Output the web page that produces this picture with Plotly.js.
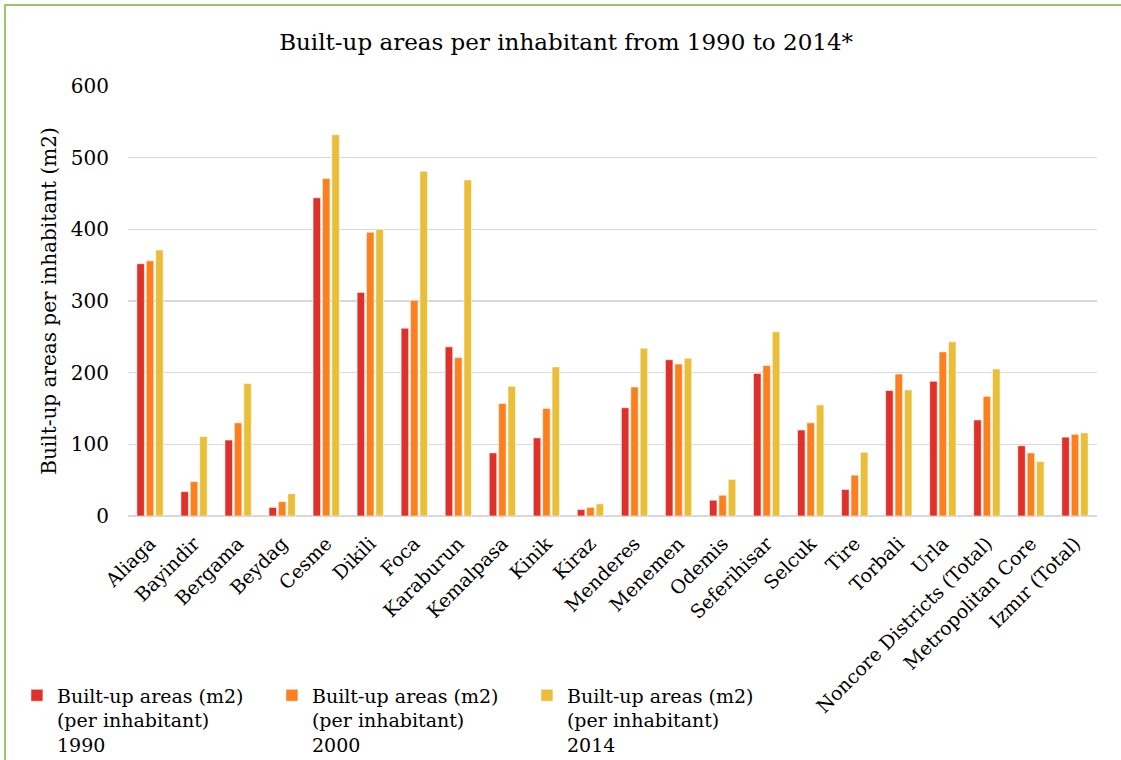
<!DOCTYPE html>
<html>
<head>
<meta charset="utf-8">
<script src="https://cdn.plot.ly/plotly-3.0.1.min.js"></script>
<style>
html,body{margin:0;padding:0;overflow:hidden;background:#fff;}
#chart{position:absolute;left:0;top:0;width:1121px;height:760px;}
#frame{position:absolute;left:4px;top:4px;width:1140px;height:780px;border:2px solid #9cc767;pointer-events:none;}
</style>
</head>
<body>
<div id="chart"></div>
<div id="frame"></div>
<script>
const categories = ["Aliaga","Bayindir","Bergama","Beydag","Cesme","Dikili","Foca","Karaburun","Kemalpasa","Kinik","Kiraz","Menderes","Menemen","Odemis","Seferihisar","Selcuk","Tire","Torbali","Urla","Noncore Districts (Total)","Metropolitan Core","Izmır (Total)"];
const values1990 = [352,34,106,12,444,312,262,236,88,109,9,151,218,22,199,120,37,175,188,134,98,110];
const values2000 = [356,48,130,20,471,396,301,221,157,150,12,180,212,29,210,130,57,198,229,167,88,114];
const values2014 = [371,111,185,31,532,400,481,469,181,208,17,234,220,51,257,155,89,176,243,205,76,116];
const seriesNames = ["Built-up areas (m2)<br>(per inhabitant)<br>1990","Built-up areas (m2)<br>(per inhabitant)<br>2000","Built-up areas (m2)<br>(per inhabitant)<br>2014"];
const colors = ["#e0302a","#fd801e","#e9be38"];

const font = "DejaVu Serif, serif";
const allValues = [values1990, values2000, values2014];
const traces = allValues.map((v,i)=>({
  type:"bar", x:categories, y:v, name:seriesNames[i],
  marker:{color:colors[i], line:{color:"rgba(255,255,255,0.55)", width:1}}
}));

const layout = {
  width:1121, height:760,
  margin:{l:128, r:24, t:86, b:244, autoexpand:false},
  paper_bgcolor:"#fff", plot_bgcolor:"#fff",
  title:{text:"Built-up areas per inhabitant from 1990 to 2014*", font:{family:font, size:23, color:"#000"}, x:0.505, xanchor:"center", y:0.945, yanchor:"middle"},
  barmode:"group", bargap:0.36, bargroupgap:0.2,
  xaxis:{tickangle:-45, tickfont:{family:font, size:19, color:"#000"}, showgrid:false, showline:false, ticks:"outside", ticklen:8, tickcolor:"rgba(0,0,0,0)", automargin:false},
  yaxis:{range:[0,600], dtick:100, tickfont:{family:font, size:20, color:"#000"}, gridcolor:"#d9d9d9", gridwidth:1.5, zeroline:true, zerolinecolor:"#d9d9d9", zerolinewidth:1.5, showline:false, ticks:"outside", ticklen:14, tickcolor:"rgba(0,0,0,0)",
    title:{text:"Built-up areas per inhabitant (m2)", font:{family:font, size:20, color:"#000"}, standoff:8}, automargin:false},
  showlegend:true,
  legend:{orientation:"h", x:-0.1146, xanchor:"left", y:-0.373, yanchor:"top", valign:"top", font:{family:font, size:19, color:"#000"}, entrywidth:210, entrywidthmode:"pixels", itemwidth:30, tracegroupgap:0, bgcolor:"rgba(0,0,0,0)"}
};

Plotly.newPlot("chart", traces, layout, {displayModeBar:false, staticPlot:true});
</script>
</body>
</html>
